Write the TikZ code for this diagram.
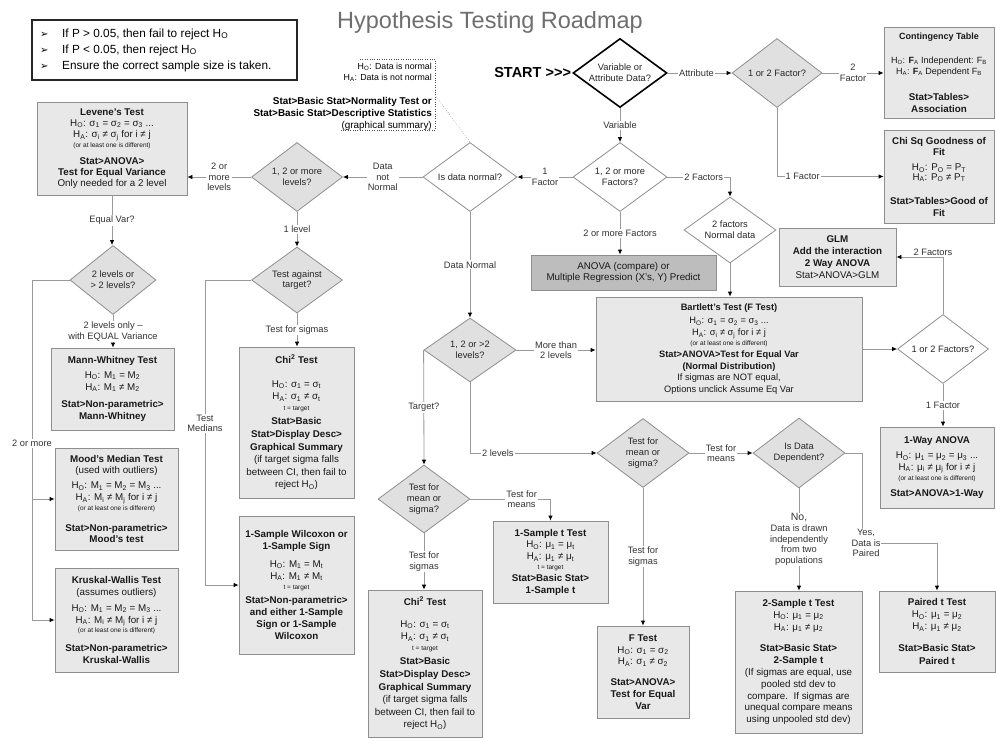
\documentclass[tikz,border=0pt]{standalone}
\usepackage{fontspec}
\setmainfont{Liberation Sans}
\newfontfamily\dejavu{DejaVu Sans}
\usetikzlibrary{shapes.geometric,arrows.meta}
\definecolor{boxfill}{HTML}{E8E8E8}
\definecolor{diafill}{HTML}{E0E0E0}
\definecolor{darkfill}{HTML}{BDBDBD}
\definecolor{edge}{HTML}{8E8E8E}
\definecolor{wire}{HTML}{9A9A9A}
\definecolor{titlegray}{HTML}{6E6E6E}
\newcommand\subs[1]{\textsubscript{#1}}
\newcommand\tnote[1]{{\fontsize{6.5}{7}\selectfont #1}}
\newcommand\bul{\makebox[22pt][l]{\dejavu\fontsize{10}{10}\selectfont ➢}}
\begin{document}
\begin{tikzpicture}[x=1pt,y=-1pt,
  box/.style={draw=edge, fill=boxfill, line width=0.8pt, align=center, inner sep=1pt, font=\fontsize{9.8}{11.8}\selectfont, text=black!90},
  dia/.style={diamond, aspect=1.4, draw=edge, line width=0.8pt, inner sep=0pt, align=center, font=\fontsize{9.3}{10.8}\selectfont, minimum width=92pt, minimum height=69pt, text=black!85},
  gdia/.style={dia, fill=diafill},
  wdia/.style={dia, fill=white},
  conn/.style={draw=wire, line width=0.8pt},
  arr/.style={conn, -{Latex[length=5pt,width=4.5pt,color=black]}},
  lbl/.style={fill=white, inner sep=1pt, align=center, font=\fontsize{9.3}{10.6}\selectfont, text=black!80},
]
\useasboundingbox (0,0) rectangle (996,740);

% title and legend
\node[font=\fontsize{23.5}{26}\selectfont, text=titlegray] (title) at (490,22) {Hypothesis Testing Roadmap};
\node[draw=black!85, line width=2pt, minimum width=265pt, minimum height=60pt, inner sep=0] (legend) at (164.5,50) {};
\node[anchor=west, align=left, inner sep=0, font=\fontsize{11.8}{16}\selectfont] (legtxt) at (40,50)
 {\bul If P > 0.05, then fail to reject H\subs{O}\\ \bul If P < 0.05, then reject H\subs{O}\\ \bul Ensure the correct sample size is taken.};

% normality note
\node[anchor=east, inner sep=0, font=\fontsize{8.8}{9}\selectfont] (nh0) at (432,67) {H\subs{O}: Data is normal};
\node[anchor=east, inner sep=0, font=\fontsize{8.8}{9}\selectfont] (nha) at (432,78) {H\subs{A}: Data is not normal};
\node[anchor=east, align=right, inner sep=0, font=\bfseries\fontsize{9.9}{12}\selectfont] (nstat) at (432,114)
 {Stat>Basic Stat>Normality Test or\\Stat>Basic Stat>Descriptive Statistics\\{\mdseries (graphical summary)}};
\coordinate (notecorner) at (435,95);
\draw[dotted, black!70] (360,59) -- (435,59) -- (435,130) -- (340,130);

% diamonds
\node[wdia, draw=black, line width=1.6pt, minimum width=94pt] (vad) at (620,73) {Variable or\\Attribute Data?};
\node[font=\bfseries\fontsize{14.5}{16}\selectfont, anchor=east, inner sep=1pt] (start) at (vad.west) {START >{}>{}>};
\node[gdia, minimum width=90pt] (att2) at (777,73) {1 or 2 Factor?};
\node[wdia, minimum width=94pt] (fac) at (620,177) {1, 2 or more\\Factors?};
\node[wdia, minimum width=94pt] (norm) at (470,177) {Is data normal?};
\node[gdia, minimum width=91pt] (lev12) at (297,177) {1, 2 or more\\levels?};
\node[gdia, minimum width=91pt, minimum height=66pt] (tat) at (297,280) {Test against\\target?};
\node[gdia, minimum width=86pt] (l2) at (113,280) {2 levels or\\> 2 levels?};
\node[wdia, minimum height=66pt] (fnd) at (730,230) {2 factors\\Normal data};
\node[gdia, minimum height=64pt] (lvl) at (470,350) {1, 2 or >2\\levels?};
\node[wdia, minimum width=91pt] (f12) at (943,349) {1 or 2 Factors?};
\node[gdia, minimum height=68pt] (tms1) at (424,499) {Test for\\mean or\\sigma?};
\node[gdia] (tms2) at (643,453) {Test for\\mean or\\sigma?};
\node[gdia, minimum height=70pt] (dep) at (799,453) {Is Data\\Dependent?};

% boxes
\node[box, font=\fontsize{9}{11}\selectfont, minimum width=110pt, minimum height=91pt] (cont) at (939,72.5)
 {\textbf{Contingency Table}\\[13pt] H\subs{O}: \textbf{F}\subs{A} Independent: F\subs{B}\\ H\subs{A}: \textbf{F}\subs{A} Dependent F\subs{B}\\[15pt] \textbf{\fontsize{9.8}{11}\selectfont Stat>Tables>}\\[1pt] \textbf{\fontsize{9.8}{11}\selectfont Association}};
\node[box, minimum width=110pt, minimum height=93pt] (chisq) at (939,176.5)
 {\textbf{Chi Sq Goodness of}\\ \textbf{Fit}\\[3pt] H\subs{O}: P\subs{O} = P\subs{T}\\[-2pt] H\subs{A}: P\subs{O} ≠ P\subs{T}\\[12pt] \textbf{Stat>Tables>Good of}\\ \textbf{Fit}};
\node[box, font=\fontsize{9.8}{11.2}\selectfont, minimum width=150pt, minimum height=93pt] (lev) at (112,148.5)
 {\textbf{Levene's Test}\\ H\subs{O}: σ\subs{1} = σ\subs{2} = σ\subs{3} ...\\ H\subs{A}: σ\subs{i} ≠ σ\subs{j} for i ≠ j\\[-1pt] \tnote{(or at least one is different)}\\[5pt] \textbf{Stat>ANOVA>}\\ \textbf{Test for Equal Variance}\\ Only needed for a 2 level};
\node[box, fill=darkfill, minimum width=185pt, minimum height=35pt] (anova) at (623.5,272.5)
 {ANOVA (compare) or\\ Multiple Regression (X's, Y) Predict};
\node[box, minimum width=117pt, minimum height=58pt] (glm) at (837.5,257)
 {\textbf{GLM}\\ \textbf{Add the interaction}\\ \textbf{2 Way ANOVA}\\ Stat>ANOVA>GLM};
\node[box, font=\fontsize{9.3}{11.8}\selectfont, minimum width=266pt, minimum height=104pt] (bart) at (729,349)
 {\textbf{Bartlett's Test (F Test)}\\[2pt] H\subs{O}: σ\subs{1} = σ\subs{2} = σ\subs{3} ...\\ H\subs{A}: σ\subs{i} ≠ σ\subs{j} for i ≠ j\\[-2pt] \tnote{(or at least one is different)}\\ \textbf{Stat>ANOVA>Test for Equal Var}\\ \textbf{(Normal Distribution)}\\ If sigmas are NOT equal,\\ Options unclick Assume Eq Var};
\node[box, minimum width=114pt, minimum height=81pt] (oneway) at (937,467.5)
 {\textbf{1-Way ANOVA}\\[3pt] H\subs{O}: μ\subs{1} = μ\subs{2} = μ\subs{3} ...\\ H\subs{A}: μ\subs{i} ≠ μ\subs{j} for i ≠ j\\[-2pt] \tnote{(or at least one is different)}\\[4pt] \textbf{Stat>ANOVA>1-Way}};
\node[box, minimum width=123pt, minimum height=82pt] (mw) at (112.5,389)
 {\textbf{Mann-Whitney Test}\\[3pt] H\subs{O}: M\subs{1} = M\subs{2}\\ H\subs{A}: M\subs{1} ≠ M\subs{2}\\[6pt] \textbf{Stat>Non-parametric>}\\ \textbf{Mann-Whitney}};
\node[box, minimum width=123pt, minimum height=102pt] (mood) at (116.5,499)
 {\textbf{Mood's Median Test}\\ (used with outliers)\\[3pt] H\subs{O}: M\subs{1} = M\subs{2} = M\subs{3} ...\\ H\subs{A}: M\subs{i} ≠ M\subs{j} for i ≠ j\\[-2pt] \tnote{(or at least one is different)}\\[9pt] \textbf{Stat>Non-parametric>}\\ \textbf{Mood's test}};
\node[box, minimum width=123pt, minimum height=104pt] (kw) at (116.5,620)
 {\textbf{Kruskal-Wallis Test}\\ (assumes outliers)\\[4pt] H\subs{O}: M\subs{1} = M\subs{2} = M\subs{3} ...\\ H\subs{A}: M\subs{i} ≠ M\subs{j} for i ≠ j\\[-2pt] \tnote{(or at least one is different)}\\[7pt] \textbf{Stat>Non-parametric>}\\ \textbf{Kruskal-Wallis}};
\node[box, font=\fontsize{9.8}{12.6}\selectfont, minimum width=115pt, minimum height=151pt] (chi1) at (296.5,422.5)
 {\textbf{Chi\textsuperscript{2} Test}\\[11pt] H\subs{O}: σ\subs{1} = σ\subs{t}\\ H\subs{A}: σ\subs{1} ≠ σ\subs{t}\\[-2pt] \tnote{t = target}\\[2pt] \textbf{Stat>Basic}\\ \textbf{Stat>Display Desc>}\\ \textbf{Graphical Summary}\\ (if target sigma falls\\ between CI, then fail to\\ reject H\subs{O})};
\node[box, minimum width=115pt, minimum height=138pt] (wil) at (296.5,585)
 {\textbf{1-Sample Wilcoxon or}\\ \textbf{1-Sample Sign}\\[6pt] H\subs{O}: M\subs{1} = M\subs{t}\\ H\subs{A}: M\subs{1} ≠ M\subs{t}\\[-2pt] \tnote{t = target}\\[3pt] \textbf{Stat>Non-parametric>}\\ \textbf{and either 1-Sample}\\ \textbf{Sign or 1-Sample}\\ \textbf{Wilcoxon}};
\node[box, minimum width=115pt, minimum height=82pt] (t1) at (550.5,562)
 {\textbf{1-Sample t Test}\\ H\subs{O}: μ\subs{1} = μ\subs{t}\\ H\subs{A}: μ\subs{1} ≠ μ\subs{t}\\[-2pt] \tnote{t = target}\\[0pt] \textbf{Stat>Basic Stat>}\\ \textbf{1-Sample t}};
\node[box, font=\fontsize{9.8}{12.6}\selectfont, minimum width=114pt, minimum height=147pt] (chi2) at (425,663.5)
 {\textbf{Chi\textsuperscript{2} Test}\\[9pt] H\subs{O}: σ\subs{1} = σ\subs{t}\\ H\subs{A}: σ\subs{1} ≠ σ\subs{t}\\[-2pt] \tnote{t = target}\\[2pt] \textbf{Stat>Basic}\\ \textbf{Stat>Display Desc>}\\ \textbf{Graphical Summary}\\ (if target sigma falls\\ between CI, then fail to\\ reject H\subs{O})};
\node[box, minimum width=92pt, minimum height=92pt] (ftest) at (643,672)
 {\textbf{F Test}\\ H\subs{O}: σ\subs{1} = σ\subs{2}\\ H\subs{A}: σ\subs{1} ≠ σ\subs{2}\\[9pt] \textbf{Stat>ANOVA>}\\ \textbf{Test for Equal}\\ \textbf{Var}};
\node[box, minimum width=127pt, minimum height=142pt] (t2) at (798.5,662)
 {\textbf{2-Sample t Test}\\ H\subs{O}: μ\subs{1} = μ\subs{2}\\ H\subs{A}: μ\subs{1} ≠ μ\subs{2}\\[10pt] \textbf{Stat>Basic Stat>}\\ \textbf{2-Sample t}\\ (If sigmas are equal, use\\ pooled std dev to\\ compare.\ \ If sigmas are\\ unequal compare means\\ using unpooled std dev)};
\node[box, minimum width=116pt, minimum height=81pt] (paired) at (937,631.5)
 {\textbf{Paired t Test}\\ H\subs{O}: μ\subs{1} = μ\subs{2}\\ H\subs{A}: μ\subs{1} ≠ μ\subs{2}\\[10pt] \textbf{Stat>Basic Stat>}\\[1pt] \textbf{Paired t}};

% connectors
\draw[dotted, black!70] (notecorner) -- (norm.north);
\draw[arr] (vad.east) -- node[lbl, pos=0.45] (lAttr) {Attribute} (att2.west);
\draw[arr] (vad.south) -- node[lbl] (lVar) {Variable} (fac.north);
\draw[arr] (att2.east) -- node[lbl] (l2F) {2\\Factor} (att2.east -| cont.west);
\draw[arr] (att2.south) |- node[lbl, pos=0.62] (l1F) {1 Factor} (chisq.west);
\draw[arr] (fac.west) -- node[lbl] (l1Fb) {1\\Factor} (norm.east);
\draw[arr] (fac.east) -| node[lbl, pos=0.29] (l2Fs) {2 Factors} (fnd.north);
\draw[arr] (fac.south) -- node[lbl] (l2mF) {2 or more Factors} (fac.south |- anova.north);
\draw[arr] (fnd.south) -- (fnd.south |- bart.north);
\draw[arr] (norm.west) -- node[lbl] (lDnN) {Data\\not\\Normal} (lev12.east);
\draw[arr] (lev12.west) -- node[lbl] (l2ml) {2 or\\more\\levels} (lev12.west -| lev.east);
\draw[arr] (lev.south) -- node[lbl] (lEV) {Equal Var?} (lev.south |- l2.north);
\draw[arr] (l2.south) -- node[lbl] (l2lo) {2 levels only –\\with EQUAL Variance} (l2.south |- mw.north);
\coordinate (lb) at (32,280);
\draw[arr] (l2.west) -- (lb) -- node[lbl, pos=0.48] (l2om) {2 or more} (lb |- kw.west) -- (kw.west);
\draw[arr] (lb |- mood.west) -- (mood.west);
\draw[arr] (lev12.south) -- node[lbl] (l1l) {1 level} (tat.north);
\draw[arr] (tat.south) -- node[lbl] (lTs) {Test for sigmas} (tat.south |- chi1.north);
\coordinate (tmc) at (205,280);
\draw[arr] (tat.west) -- (tmc) -- node[lbl, pos=0.47] (lTM) {Test\\Medians} (tmc |- wil.west) -- (wil.west);
\draw[arr] (norm.south) -- node[lbl] (lDN) {Data Normal} (lvl.north);
\draw[arr] (lvl.east) -- node[lbl] (lMt2) {More than\\2 levels} (lvl.east -| bart.west);
\draw[arr] (lvl.west) -- node[lbl] (lTg) {Target?} (tms1.north);
\draw[arr] (lvl.south) |- node[lbl, pos=0.61] (l2l) {2 levels} (tms2.west);
\draw[arr] (tms1.east) -| node[lbl, pos=0.32] (lTfm1) {Test for\\means} (t1.north);
\draw[arr] (tms1.south) -- node[lbl] (lTfs1) {Test for\\sigmas} (tms1.south |- chi2.north);
\draw[arr] (tms2.east) -- node[lbl] (lTfm2) {Test for\\means} (dep.west);
\draw[arr] (tms2.south) -- node[lbl] (lTfs2) {Test for\\sigmas} (tms2.south |- ftest.north);
\draw[arr] (dep.south) -- node[lbl] (lNo) {{\fontsize{10.5}{11}\selectfont No,}\\Data is drawn\\independently\\from two\\populations} (dep.south |- t2.north);
\coordinate (yc) at (862,543);
\draw[arr] (dep.east) -| (yc) -| (paired.north);
\node[lbl] (lYes) at (866,543) {Yes,\\Data is\\Paired};
\draw[arr] (bart.east) -- (f12.west);
\coordinate (gc) at (943,257);
\draw[arr] (f12.north) -- (gc) -- (glm.east);
\node[lbl] (l2Fg) at (933,252) {2 Factors};
\draw[arr] (f12.south) -- node[lbl] (l1Fo) {1 Factor} (f12.south |- oneway.north);
\end{tikzpicture}
\end{document}
